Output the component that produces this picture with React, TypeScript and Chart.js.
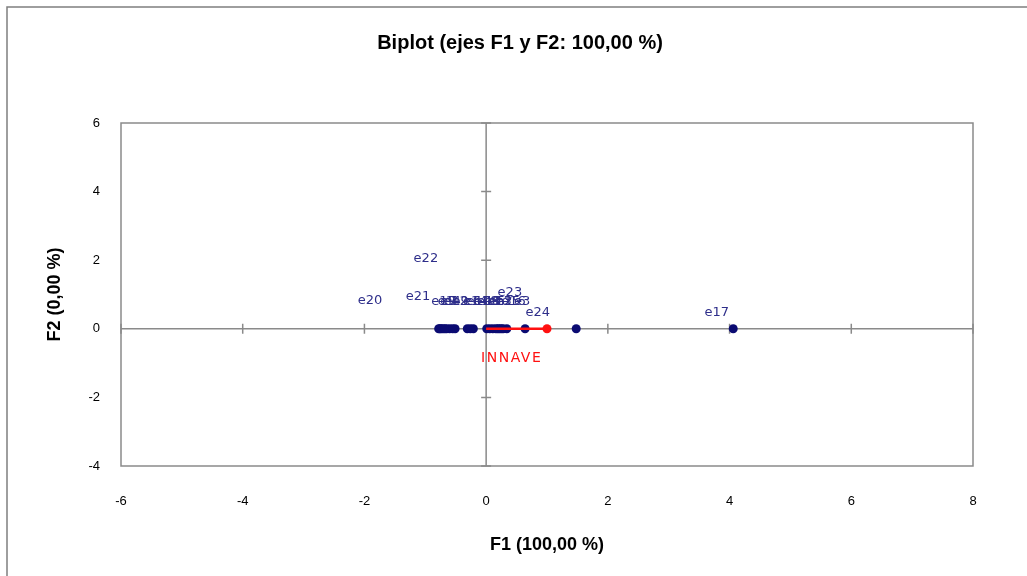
import React, { useEffect, useRef } from "react";
import { Chart, registerables } from "chart.js";

Chart.register(...registerables);

const titleText = "Biplot (ejes F1 y F2: 100,00 %)";
const xTitle = "F1 (100,00 %)";
const yTitle = "F2 (0,00 %)";

const xTicks = [-6, -4, -2, 0, 2, 4, 6, 8];
const yTicks = [-4, -2, 0, 2, 4, 6];

const obsNames = ["e1","e2","e3","e4","e5","e6","e7","e8","e9","e10","e11","e12","e13","e14","e15","e16","e17","e18","e19","e20","e21","e22","e23","e24"];
const obsF1 = [-0.76,0.22,0.34,-0.65,0.11,-0.31,-0.71,0.06,-0.51,-0.21,0.01,-0.6,0.16,-0.26,0.28,1.48,4.06,0.19,-0.74,-0.78,-0.68,-0.55,0.25,0.64];
const obsF2 = [0,0,0,0,0,0,0,0,0,0,0,0,0,0,0,0,0,0,0,0,0,0,0,0];
const labelX = [-0.66,0.3,0.59,-0.55,0.18,-0.22,-0.62,0.1,-0.42,-0.12,0.05,-0.5,0.22,-0.18,0.36,0.45,3.79,0.0,-0.7,-1.91,-1.12,-0.99,0.39,0.85];
const labelY = [0.79,0.79,0.79,0.79,0.79,0.79,0.79,0.79,0.79,0.79,0.79,0.79,0.79,0.79,0.79,0.79,0.47,0.79,0.79,0.82,0.94,2.05,1.05,0.47];

const varName = "INNAVE";
const varF1 = [0, 1.0];
const varF2 = [0, 0];
const varLabelX = 0.42;
const varLabelY = -0.85;

const NAVY = "#0b0b72";
const LABEL_NAVY = "#2e2e8a";
const RED = "#ff1010";
const GRAY = "#8a8a8a";

const decoPlugin = {
  id: "deco",
  beforeDatasetsDraw(chart: any) {
    const { ctx, chartArea: a, scales } = chart;
    const xs = scales.x, ys = scales.y;
    ctx.save();
    ctx.strokeStyle = "#7f7f7f";
    ctx.lineWidth = 1.5;
    ctx.beginPath();
    ctx.moveTo(7, 600);
    ctx.lineTo(7, 7);
    ctx.lineTo(1040, 7);
    ctx.stroke();
    ctx.strokeStyle = GRAY;
    ctx.lineWidth = 1.5;
    ctx.strokeRect(a.left, a.top, a.right - a.left, a.bottom - a.top);
    const x0 = xs.getPixelForValue(0);
    const y0 = ys.getPixelForValue(0);
    ctx.beginPath();
    ctx.moveTo(a.left, y0);
    ctx.lineTo(a.right, y0);
    ctx.moveTo(x0, a.top);
    ctx.lineTo(x0, a.bottom);
    for (const t of xTicks) {
      const px = xs.getPixelForValue(t);
      ctx.moveTo(px, y0 - 5);
      ctx.lineTo(px, y0 + 5);
    }
    for (const t of yTicks) {
      const py = ys.getPixelForValue(t);
      ctx.moveTo(x0 - 5, py);
      ctx.lineTo(x0 + 5, py);
    }
    ctx.stroke();
    ctx.restore();
  },
  afterDatasetsDraw(chart: any) {
    const { ctx, chartArea: a, scales } = chart;
    const xs = scales.x, ys = scales.y;
    ctx.save();
    ctx.textAlign = "center";
    ctx.textBaseline = "middle";
    ctx.font = "13px 'DejaVu Sans'";
    ctx.fillStyle = LABEL_NAVY;
    for (let i = 0; i < obsNames.length; i++) {
      ctx.fillText(obsNames[i], xs.getPixelForValue(labelX[i]), ys.getPixelForValue(labelY[i]));
    }
    ctx.fillStyle = RED;
    ctx.font = "14px 'DejaVu Sans'";
    (ctx as any).letterSpacing = "1.5px";
    ctx.fillText(varName, xs.getPixelForValue(varLabelX), ys.getPixelForValue(varLabelY));
    (ctx as any).letterSpacing = "0px";
    ctx.fillStyle = "#000";
    ctx.font = "bold 20px 'Liberation Sans Narrow', 'Liberation Sans', Arial";
    ctx.fillText(titleText, 520, 43);
    ctx.font = "bold 18px 'Liberation Sans Narrow', 'Liberation Sans', Arial";
    ctx.fillText(xTitle, (a.left + a.right) / 2, 545);
    ctx.translate(55, (a.top + a.bottom) / 2);
    ctx.rotate(-Math.PI / 2);
    ctx.fillText(yTitle, 0, 0);
    ctx.restore();
  },
};

export default function App() {
  const ref = useRef<HTMLCanvasElement>(null);
  useEffect(() => {
    if (!ref.current) return;
    const obsData = obsF1.map((x, i) => ({ x, y: obsF2[i] }));
    const varData = varF1.map((x, i) => ({ x, y: varF2[i] }));
    const tickFont = { family: "'Liberation Sans Narrow', 'Liberation Sans', Arial", size: 13 };
    const chart = new Chart(ref.current, {
      type: "scatter",
      data: {
        datasets: [
          {
            label: varName,
            data: varData,
            showLine: true,
            borderColor: RED,
            borderWidth: 2.5,
            backgroundColor: RED,
            pointRadius: [0, 4.5],
            pointBorderWidth: 0,
          },
          {
            label: "obs",
            data: obsData,
            backgroundColor: NAVY,
            borderColor: NAVY,
            pointRadius: 4.5,
            pointBorderWidth: 0,
          },
        ],
      },
      options: {
        animation: false,
        responsive: false,
        layout: { padding: { top: 123, right: 54, left: 0, bottom: 0 } },
        plugins: { legend: { display: false }, tooltip: { enabled: false }, title: { display: false } },
        scales: {
          x: {
            type: "linear",
            min: -6,
            max: 8,
            afterBuildTicks: (s: any) => { s.ticks = xTicks.map((v) => ({ value: v })); },
            afterFit: (s: any) => { s.height = 110; },
            grid: { display: false, drawTicks: false },
            border: { display: false },
            ticks: { color: "#000", font: tickFont, padding: 28 },
          },
          y: {
            type: "linear",
            min: -4,
            max: 6,
            afterBuildTicks: (s: any) => { s.ticks = yTicks.map((v) => ({ value: v })); },
            afterFit: (s: any) => { s.width = 121; },
            grid: { display: false, drawTicks: false },
            border: { display: false },
            ticks: { color: "#000", font: tickFont, padding: 21 },
          },
        },
      },
      plugins: [decoPlugin],
    });
    return () => chart.destroy();
  }, []);
  return (
    <div style={{ position: "fixed", left: 0, top: 0, width: 1027, height: 576, background: "#fff" }}>
      <canvas ref={ref} width={1027} height={576} style={{ display: "block" }} />
    </div>
  );
}
